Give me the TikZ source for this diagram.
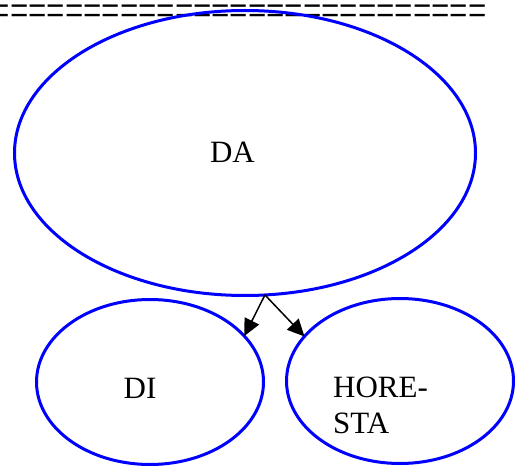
\documentclass[tikz,border=0pt]{standalone}
\usepackage{fontspec}
\setmainfont{Liberation Serif}
\usetikzlibrary{shapes.geometric}
\usetikzlibrary{arrows.meta}
\tikzset{>={Triangle[length=17pt,width=16pt]}}
\tikzset{blob/.style={ellipse,draw=blue,line width=3pt,outer sep=0pt,inner sep=0pt},
         word/.style={inner sep=0pt,font=\fontsize{31}{36}\selectfont}}

\begin{document}
\begin{tikzpicture}[x=1pt,y=-1pt]
            \useasboundingbox (0,0) rectangle (521,470);
            \node[word,anchor=base west,font=\fontsize{32.5}{36}\selectfont] (rule) at (-8.5,27) {\scalebox{1}[1.45]{===========================}};
            \node[blob,minimum width=461pt,minimum height=285pt] (da) at (245,153) {};
            \node[blob,minimum width=227pt,minimum height=165pt] (di) at (150,382) {};
            \node[blob,minimum width=227pt,minimum height=165pt] (horesta) at (400,381) {};
            \node[word,anchor=base] (datext) at (232.5,163) {DA};
            \node[word,anchor=base] (ditext) at (140,398) {DI};
            \node[word,anchor=base west,align=left] (horestatext) at (333,433) {HORE-\\STA};
            \draw[black,line width=1.5pt,->] (da.-82.5) -- (di.26);
            \draw[black,line width=1.5pt,->] (da.-82.5) -- (horesta.155);
\end{tikzpicture}
\end{document}
